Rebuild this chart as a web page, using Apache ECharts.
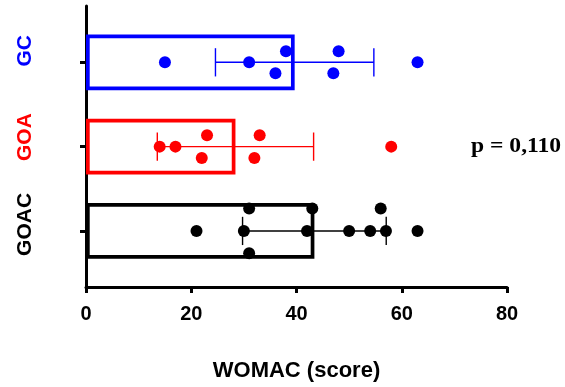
<!DOCTYPE html>
<html><head><meta charset="utf-8">
<script src="https://cdn.jsdelivr.net/npm/echarts@6/dist/echarts.min.js"></script>
<style>html,body{margin:0;padding:0;background:#fff}#c{width:565px;height:387px}</style>
</head><body><div id="c"></div>
<script>
// Data
const categories = ['GOAC', 'GOA', 'GC'];          // bottom -> top
const groupColors = ['#000000', '#FF0000', '#0000FF'];
const means = [43.4, 28.4, 39.65];
const sds = [13.65, 14.85, 15.05];
const goacValues = [21, 30, 31, 31, 42, 43, 50, 54, 57, 56, 63];
const goacJitter = [0, 0, 0.265, -0.265, 0, 0.265, 0, 0, 0, 0.265, 0];
const goaValues = [14, 17, 23, 22, 33, 32, 58];
const goaJitter = [0, 0, 0.135, -0.135, 0.135, -0.135, 0];
const gcValues = [15, 31, 38, 36, 48, 47, 63];
const gcJitter = [0, 0, 0.13, -0.13, 0.13, -0.13, 0];
const xTicks = [0, 20, 40, 60, 80];
const xTitle = 'WOMAC (score)';
const pText = 'p = 0,110';

const groupValues = [goacValues, goaValues, gcValues];
const groupJitter = [goacJitter, goaJitter, gcJitter];
const groupPos = categories.map((c, i) => i + 1);
const labelShift = [13, 19, 23];

const chart = echarts.init(document.getElementById('c'), null, {renderer: 'canvas'});
const FONT = 'Liberation Sans, Arial, sans-serif';

const rich = {};
categories.forEach((c, i) => {
  rich['c' + (i + 1)] = {color: groupColors[i], fontSize: 21, fontWeight: 'bold', fontFamily: FONT, padding: [0, 0, 0, labelShift[i]]};
});

const series = [];
series.push({
  type: 'custom', z: 2,
  data: means.map((m, i) => [m, groupPos[i], i]),
  encode: {x: 0, y: 1},
  renderItem(params, api) {
    const m = api.value(0), y = api.value(1), idx = api.value(2);
    const p0 = api.coord([0, y]), p1 = api.coord([m, y]);
    const h = api.size([0, 0.66])[1];
    const lw = 3.7;
    return {type: 'rect', shape: {x: p0[0] + lw / 2, y: p0[1] - h / 2 + lw / 2, width: p1[0] - p0[0] - lw, height: h - lw},
      style: {fill: 'none', stroke: groupColors[idx], lineWidth: lw}};
  }
});
series.push({
  type: 'custom', z: 3,
  data: means.map((m, i) => [m - sds[i], m + sds[i], groupPos[i], i]),
  encode: {x: [0, 1], y: 2},
  renderItem(params, api) {
    const lo = api.value(0), hi = api.value(1), y = api.value(2), idx = api.value(3);
    const a = api.coord([lo, y]), b = api.coord([hi, y]);
    const ch = api.size([0, 0.335])[1] / 2;
    const st = {stroke: groupColors[idx], lineWidth: 1.4};
    return {type: 'group', children: [
      {type: 'line', shape: {x1: a[0], y1: a[1], x2: b[0], y2: b[1]}, style: st},
      {type: 'line', shape: {x1: a[0], y1: a[1] - ch, x2: a[0], y2: a[1] + ch}, style: st},
      {type: 'line', shape: {x1: b[0], y1: b[1] - ch, x2: b[0], y2: b[1] + ch}, style: st}
    ]};
  }
});
groupValues.forEach((vals, g) => {
  series.push({
    type: 'scatter', z: 4, symbol: 'circle', symbolSize: 12,
    itemStyle: {color: groupColors[g], opacity: 1},
    data: vals.map((v, i) => [v, groupPos[g] + groupJitter[g][i]])
  });
});

chart.setOption({
  animation: false,
  backgroundColor: '#ffffff',
  grid: {left: 86, right: 58, top: 6, bottom: 99.5, containLabel: false},
  xAxis: {
    type: 'value', min: xTicks[0], max: xTicks[xTicks.length - 1], interval: xTicks[1] - xTicks[0],
    name: xTitle, nameLocation: 'middle', nameGap: 73,
    nameTextStyle: {color: '#000', fontSize: 22, fontWeight: 'bold', fontFamily: FONT},
    axisLine: {show: true, onZero: false, lineStyle: {color: '#000', width: 3}},
    axisTick: {show: true, inside: false, length: 6, lineStyle: {color: '#000', width: 3}},
    axisLabel: {color: '#000', fontSize: 20, fontWeight: 'bold', fontFamily: FONT, margin: 17},
    splitLine: {show: false}
  },
  yAxis: {
    type: 'value', min: 0.335, max: 3.668,
    axisLine: {show: true, onZero: false, lineStyle: {color: '#000', width: 3}},
    axisTick: {show: true, customValues: groupPos, length: 6, lineStyle: {color: '#000', width: 3}},
    axisLabel: {show: true, customValues: groupPos, rotate: 90, margin: 50,
      formatter: v => '{c' + v + '|' + categories[v - 1] + '}', rich: rich},
    splitLine: {show: false}
  },
  graphic: [{
    type: 'text', x: 471, y: 137, scaleX: 1.18, scaleY: 1,
    style: {text: pText, fill: '#000', font: 'bold 20px "Liberation Serif", "Times New Roman", serif'}
  }],
  series: series
});
</script></body></html>
